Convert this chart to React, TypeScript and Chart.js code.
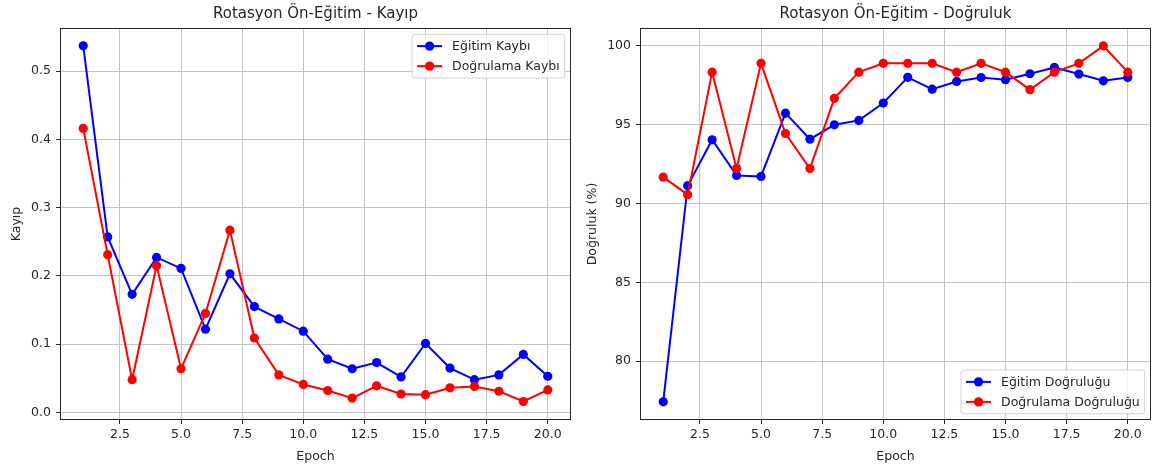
import React, { useEffect, useRef } from "react";
import { Chart, registerables } from "chart.js";

Chart.register(...registerables);

const epochs = [1, 2, 3, 4, 5, 6, 7, 8, 9, 10, 11, 12, 13, 14, 15, 16, 17, 18, 19, 20];
const trainLoss = [0.537, 0.257, 0.173, 0.227, 0.211, 0.122, 0.203, 0.155, 0.137, 0.119, 0.078, 0.064, 0.073, 0.052, 0.101, 0.065, 0.048, 0.055, 0.085, 0.053];
const valLoss = [0.416, 0.231, 0.048, 0.215, 0.064, 0.145, 0.267, 0.109, 0.055, 0.041, 0.032, 0.021, 0.039, 0.027, 0.026, 0.036, 0.038, 0.031, 0.016, 0.033];
const trainAcc = [77.42, 91.13, 94.04, 91.78, 91.72, 95.73, 94.08, 94.99, 95.27, 96.37, 98.0, 97.25, 97.74, 97.99, 97.85, 98.23, 98.63, 98.21, 97.78, 97.99];
const valAcc = [91.67, 90.56, 98.33, 92.22, 98.89, 94.44, 92.22, 96.67, 98.33, 98.89, 98.89, 98.89, 98.33, 98.89, 98.33, 97.22, 98.33, 98.89, 100.0, 98.33];

const xTicks = [2.5, 5.0, 7.5, 10.0, 12.5, 15.0, 17.5, 20.0];
const lossTicks = [0.0, 0.1, 0.2, 0.3, 0.4, 0.5];
const accTicks = [80, 85, 90, 95, 100];

const FONT = '"DejaVu Sans", "Liberation Sans", sans-serif';
const TEXT = "#262626";
const MARKER_R = 4.6;
const LINE_W = 2;

const mplFrameLegend = {
  id: "mplFrameLegend",
  afterDraw(chart: any, _args: any, opts: any) {
    const { ctx, chartArea: a } = chart;
    ctx.save();
    ctx.strokeStyle = "#262626";
    ctx.lineWidth = 1;
    ctx.strokeRect(Math.round(a.left) + 0.5, Math.round(a.top) + 0.5, Math.round(a.right - a.left) - 1, Math.round(a.bottom - a.top) - 1);

    const f = 12.5;
    ctx.font = `${f}px ${FONT}`;
    const items = chart.data.datasets.map((d: any) => ({ label: d.label, color: d.borderColor }));
    const tw = Math.max(...items.map((i: any) => ctx.measureText(i.label).width));
    const bp = 5, hl = 25, htp = 10, ls = 6.25, rh = 13.75, bap = 6.25;
    const w = 2 * bp + hl + htp + tw;
    const h = 2 * bp + items.length * rh + (items.length - 1) * ls;
    const x0 = a.right - bap - w;
    const y0 = opts.loc === "lower right" ? a.bottom - bap - h : a.top + bap;
    ctx.beginPath();
    if (ctx.roundRect) ctx.roundRect(x0, y0, w, h, 3);
    else ctx.rect(x0, y0, w, h);
    ctx.fillStyle = "rgba(255,255,255,0.8)";
    ctx.fill();
    ctx.strokeStyle = "#d0d0d0";
    ctx.stroke();
    items.forEach((it: any, i: number) => {
      const cy = y0 + bp + rh / 2 + i * (rh + ls);
      const hx = x0 + bp;
      ctx.strokeStyle = it.color;
      ctx.lineWidth = LINE_W;
      ctx.beginPath();
      ctx.moveTo(hx, cy);
      ctx.lineTo(hx + hl, cy);
      ctx.stroke();
      ctx.fillStyle = it.color;
      ctx.beginPath();
      ctx.arc(hx + hl / 2, cy, MARKER_R, 0, Math.PI * 2);
      ctx.fill();
      ctx.fillStyle = TEXT;
      ctx.textBaseline = "middle";
      ctx.textAlign = "left";
      ctx.fillText(it.label, hx + hl + htp, cy + 0.5);
    });
    ctx.restore();
  },
};

type PanelProps = {
  title: string;
  yLabel: string;
  train: number[];
  val: number[];
  trainLabel: string;
  valLabel: string;
  yMin: number;
  yMax: number;
  yTicks: number[];
  yDigits: number;
  yAxisWidth: number;
  yTitlePad: number;
  rightPad: number;
  legendLoc: string;
  left: number;
};

function Panel(p: PanelProps) {
  const ref = useRef<HTMLCanvasElement | null>(null);
  useEffect(() => {
    if (!ref.current) return;
    const mk = (ys: number[]) => epochs.map((e, i) => ({ x: e, y: ys[i] }));
    const tickFont = { family: FONT, size: 12.5 };
    const chart = new Chart(ref.current, {
      type: "line",
      data: {
        datasets: [
          {
            label: p.trainLabel,
            data: mk(p.train),
            borderColor: "#0000ff",
            backgroundColor: "#0000ff",
            borderWidth: LINE_W,
            pointRadius: MARKER_R,
            pointBorderWidth: 0,
            pointHoverRadius: MARKER_R,
            tension: 0,
            order: 1,
          },
          {
            label: p.valLabel,
            data: mk(p.val),
            borderColor: "#ff0000",
            backgroundColor: "#ff0000",
            borderWidth: LINE_W,
            pointRadius: MARKER_R,
            pointBorderWidth: 0,
            pointHoverRadius: MARKER_R,
            tension: 0,
            order: 0,
          },
        ],
      },
      options: {
        animation: false,
        responsive: false,
        maintainAspectRatio: false,
        events: [],
        layout: { padding: { left: 0, right: p.rightPad, top: 0, bottom: 0 } },
        plugins: {
          legend: { display: false },
          tooltip: { enabled: false },
          title: {
            display: true,
            text: p.title,
            fullSize: false,
            color: TEXT,
            font: { family: FONT, size: 15, weight: "normal" },
            padding: { top: 5, bottom: 5 },
          },
          mplFrameLegend: { loc: p.legendLoc },
        } as any,
        scales: {
          x: {
            type: "linear",
            min: 0.05,
            max: 20.95,
            afterBuildTicks: (s: any) => {
              s.ticks = xTicks.map((v) => ({ value: v }));
            },
            afterFit: (s: any) => {
              s.height = 49;
            },
            grid: { color: "#c4c4c4", lineWidth: 1, tickColor: "#262626", tickLength: 4, drawTicks: true },
            border: { display: false },
            ticks: {
              font: tickFont,
              color: TEXT,
              padding: 3,
              maxRotation: 0,
              autoSkip: false,
              callback: (v: any) => Number(v).toFixed(1),
            },
            title: {
              display: true,
              text: "Epoch",
              color: TEXT,
              font: tickFont,
              padding: { top: 0, bottom: 5 },
            },
          },
          y: {
            type: "linear",
            min: p.yMin,
            max: p.yMax,
            afterBuildTicks: (s: any) => {
              s.ticks = p.yTicks.map((v) => ({ value: v }));
            },
            afterFit: (s: any) => {
              s.width = p.yAxisWidth;
            },
            grid: { color: "#c4c4c4", lineWidth: 1, tickColor: "#262626", tickLength: 4, drawTicks: true },
            border: { display: false },
            ticks: {
              font: tickFont,
              color: TEXT,
              padding: 5,
              autoSkip: false,
              callback: (v: any) => Number(v).toFixed(p.yDigits),
            },
            title: {
              display: true,
              text: p.yLabel,
              color: TEXT,
              font: tickFont,
              padding: { top: p.yTitlePad, bottom: 0 },
            },
          },
        },
      },
      plugins: [mplFrameLegend as any],
    });
    return () => chart.destroy();
  }, []);
  return (
    <canvas
      ref={ref}
      width={578}
      height={469}
      style={{ position: "absolute", left: p.left, top: 0, width: 578, height: 469 }}
    />
  );
}

export default function App() {
  return (
    <div style={{ position: "fixed", left: 0, top: 0, width: 1156, height: 469, background: "#ffffff", overflow: "hidden" }}>
      <Panel
        title="Rotasyon Ön-Eğitim - Kayıp"
        yLabel="Kayıp"
        train={trainLoss}
        val={valLoss}
        trainLabel="Eğitim Kaybı"
        valLabel="Doğrulama Kaybı"
        yMin={-0.0111}
        yMax={0.5631}
        yTicks={lossTicks}
        yDigits={1}
        yAxisWidth={60}
        yTitlePad={9.5}
        rightPad={7}
        legendLoc="upper right"
        left={0}
      />
      <Panel
        title="Rotasyon Ön-Eğitim - Doğruluk"
        yLabel="Doğruluk (%)"
        train={trainAcc}
        val={valAcc}
        trainLabel="Eğitim Doğruluğu"
        valLabel="Doğrulama Doğruluğu"
        yMin={76.27}
        yMax={101.13}
        yTicks={accTicks}
        yDigits={0}
        yAxisWidth={62}
        yTitlePad={7.5}
        rightPad={5}
        legendLoc="lower right"
        left={578}
      />
    </div>
  );
}
